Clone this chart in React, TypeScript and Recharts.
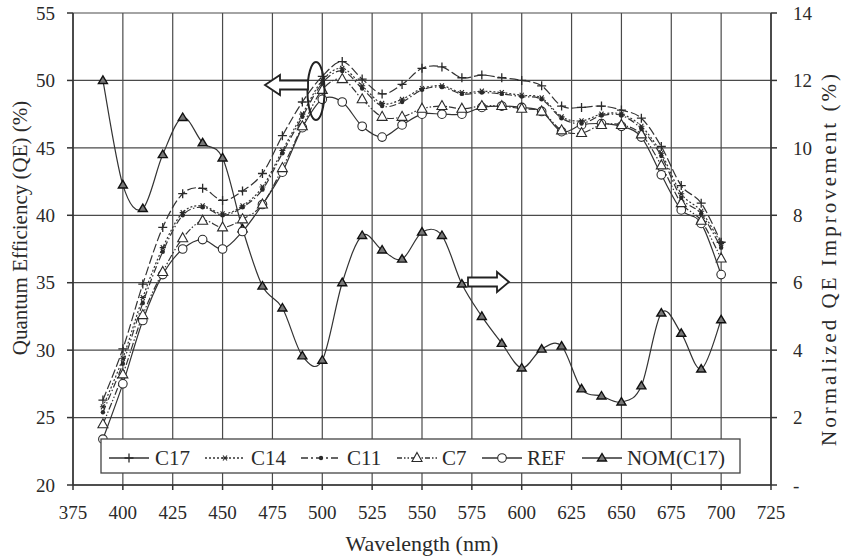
import React from 'react';
import { LineChart, Line, XAxis, YAxis, CartesianGrid } from 'recharts';

const wavelengths = [390, 400, 410, 420, 430, 440, 450, 460, 470, 480, 490, 500, 510, 520, 530, 540, 550, 560, 570, 580, 590, 600, 610, 620, 630, 640, 650, 660, 670, 680, 690, 700];
const c17 = [26.3, 30.1, 34.9, 39.1, 41.6, 42.0, 41.1, 41.8, 43.1, 45.9, 48.4, 50.3, 51.4, 50.1, 49.0, 49.7, 50.9, 51.0, 50.2, 50.4, 50.2, 50.0, 49.6, 48.1, 48.0, 48.1, 47.8, 47.2, 45.1, 42.2, 40.9, 38.0];
const c14 = [25.8, 29.4, 33.9, 37.6, 40.2, 40.7, 40.1, 40.7, 42.1, 44.8, 47.5, 50.0, 50.9, 49.6, 48.3, 48.6, 49.4, 49.6, 49.1, 49.2, 49.1, 48.9, 48.7, 47.3, 47.0, 47.5, 47.5, 46.6, 44.6, 41.6, 40.3, 37.9];
const c11 = [25.4, 29.0, 33.5, 37.3, 40.0, 40.6, 40.0, 40.6, 41.9, 44.6, 47.3, 49.8, 50.7, 49.4, 48.1, 48.4, 49.3, 49.5, 49.0, 49.1, 49.0, 48.8, 48.6, 47.2, 46.8, 47.4, 47.4, 46.4, 44.4, 41.3, 40.1, 37.6];
const c7 = [24.5, 28.2, 32.6, 35.8, 38.3, 39.6, 39.1, 39.7, 40.8, 43.5, 46.6, 49.3, 50.1, 48.6, 47.3, 47.3, 47.9, 48.1, 47.9, 48.1, 48.1, 47.9, 47.7, 46.3, 46.1, 46.7, 46.7, 46.0, 43.7, 40.9, 39.6, 36.8];
const ref = [23.4, 27.5, 32.2, 35.6, 37.5, 38.2, 37.5, 38.8, 40.8, 43.2, 46.5, 48.6, 48.4, 46.6, 45.8, 46.7, 47.5, 47.5, 47.5, 48.0, 48.1, 48.0, 47.7, 46.2, 46.7, 46.8, 46.6, 45.8, 43.0, 40.4, 39.4, 35.6];
const nom = [12.0, 8.9, 8.2, 9.8, 10.9, 10.15, 9.7, 7.6, 5.9, 5.25, 3.83, 3.7, 6.0, 7.4, 6.97, 6.7, 7.5, 7.4, 5.96, 5.0, 4.2, 3.47, 4.03, 4.12, 2.85, 2.64, 2.46, 2.94, 5.1, 4.5, 3.44, 4.9];

const xTicks = [375, 400, 425, 450, 475, 500, 525, 550, 575, 600, 625, 650, 675, 700, 725];
const leftTicks = [20, 25, 30, 35, 40, 45, 50, 55];
const rightTicks = [0, 2, 4, 6, 8, 10, 12, 14];

const data = wavelengths.map((nm, i) => ({
  nm,
  c17: c17[i],
  c14: c14[i],
  c11: c11[i],
  c7: c7[i],
  ref: ref[i],
  nom: nom[i],
}));

const FONT = "'Liberation Serif', 'Times New Roman', Tinos, 'DejaVu Serif', 'Noto Serif', Times, serif";
const INK = '#2a2a2a';

// excel-like smoothed line (catmull-rom as cubic beziers)
const smooth = (context: any) => {
  let pts: number[][] = [];
  return {
    areaStart() {},
    areaEnd() {},
    lineStart() {
      pts = [];
    },
    lineEnd() {
      const n = pts.length;
      if (!n) return;
      context.moveTo(pts[0][0], pts[0][1]);
      for (let i = 0; i < n - 1; i++) {
        const p0 = pts[Math.max(i - 1, 0)];
        const p1 = pts[i];
        const p2 = pts[i + 1];
        const p3 = pts[Math.min(i + 2, n - 1)];
        context.bezierCurveTo(
          p1[0] + (p2[0] - p0[0]) / 6,
          p1[1] + (p2[1] - p0[1]) / 6,
          p2[0] - (p3[0] - p1[0]) / 6,
          p2[1] - (p3[1] - p1[1]) / 6,
          p2[0],
          p2[1]
        );
      }
    },
    point(x: number, y: number) {
      pts.push([+x, +y]);
    },
  };
};

const plusMark = (cx: number, cy: number) => (
  <path d={`M${cx - 4.5},${cy}h9M${cx},${cy - 4.5}v9`} stroke={INK} strokeWidth={1.3} fill="none" />
);
const starMark = (cx: number, cy: number) => (
  <path
    d={`M${cx - 3},${cy}h6M${cx - 2},${cy - 2.5}l4,5M${cx + 2},${cy - 2.5}l-4,5`}
    stroke={INK}
    strokeWidth={1.1}
    fill="none"
  />
);
const dotMark = (cx: number, cy: number) => <circle cx={cx} cy={cy} r={2.2} fill={INK} />;
const openTriMark = (cx: number, cy: number) => (
  <path d={`M${cx},${cy - 5.5}L${cx + 5},${cy + 3.5}L${cx - 5},${cy + 3.5}Z`} fill="#fff" stroke={INK} strokeWidth={1.1} />
);
const circleMark = (cx: number, cy: number) => (
  <circle cx={cx} cy={cy} r={4.3} fill="#fff" stroke={INK} strokeWidth={1.1} />
);
const nomMark = (cx: number, cy: number) => (
  <path d={`M${cx},${cy - 4.5}L${cx + 4.5},${cy + 3}L${cx - 4.5},${cy + 3}Z`} fill="#777" stroke="#111" strokeWidth={1.4} />
);

const dotWith = (mark: (cx: number, cy: number) => React.ReactElement) => (props: any) => {
  const { cx, cy, index } = props;
  if (cx == null || cy == null) return <g key={`e${index}`} />;
  return <g key={`d${index}`}>{mark(cx, cy)}</g>;
};

const series = [
  { key: 'nom', name: 'NOM(C17)', axis: 'right', dash: undefined, mark: nomMark },
  { key: 'ref', name: 'REF', axis: 'left', dash: undefined, mark: circleMark },
  { key: 'c7', name: 'C7', axis: 'left', dash: '7 2 1.5 2 1.5 2', mark: openTriMark },
  { key: 'c11', name: 'C11', axis: 'left', dash: '7 2.5 1.5 2.5', mark: dotMark },
  { key: 'c14', name: 'C14', axis: 'left', dash: '2 2', mark: starMark },
  { key: 'c17', name: 'C17', axis: 'left', dash: '9 3', mark: plusMark },
];

// legend entries in display order
const legendItems = [
  { name: 'C17', lineX: 109, textX: 155, dash: undefined, mark: plusMark },
  { name: 'C14', lineX: 205, textX: 251, dash: '2 2', mark: starMark },
  { name: 'C11', lineX: 301, textX: 347, dash: '7 3 2 3', mark: dotMark },
  { name: 'C7', lineX: 397, textX: 442, dash: '5 2 1.5 2 1.5 2', mark: openTriMark },
  { name: 'REF', lineX: 482, textX: 527, dash: undefined, mark: circleMark },
  { name: 'NOM(C17)', lineX: 582, textX: 627, dash: undefined, mark: nomMark },
];

const tickStyle = { fontSize: 19, fill: INK, fontFamily: FONT };

export default function App() {
  return (
    <div style={{ position: 'absolute', left: 0, top: 0, width: 843, height: 560, background: '#fff', fontFamily: FONT }}>
      <LineChart width={843} height={560} data={data} margin={{ top: 13, right: 0, bottom: 0, left: 0 }} style={{ fontFamily: FONT }}>
        <CartesianGrid yAxisId="left" stroke="#4a4a4a" strokeWidth={1.2} />
        <XAxis
          dataKey="nm"
          type="number"
          domain={[375, 725]}
          ticks={xTicks}
          height={75}
          tickSize={5}
          tickMargin={16}
          stroke="#333"
          strokeWidth={1.5}
          tick={tickStyle}
        />
        <YAxis
          yAxisId="left"
          domain={[20, 55]}
          ticks={leftTicks}
          width={73}
          tickSize={6}
          tickMargin={12}
          stroke="#333"
          strokeWidth={1.5}
          tick={tickStyle}
        />
        <YAxis
          yAxisId="right"
          orientation="right"
          domain={[0, 14]}
          ticks={rightTicks}
          width={72}
          tickSize={6}
          tickMargin={16}
          stroke="#333"
          strokeWidth={1.5}
          tick={tickStyle}
          tickFormatter={(v: number) => (v === 0 ? '-' : String(v))}
        />
        {series.map((s) => (
          <Line
            key={s.key}
            yAxisId={s.axis}
            dataKey={s.key}
            name={s.name}
            type={smooth as any}
            stroke="#333"
            strokeWidth={1.2}
            strokeDasharray={s.dash}
            dot={dotWith(s.mark)}
            activeDot={false}
            isAnimationActive={false}
          />
        ))}
      </LineChart>

      <svg
        width={843}
        height={560}
        style={{ position: 'absolute', left: 0, top: 0, pointerEvents: 'none', fontFamily: FONT }}
      >
        {/* axis titles */}
        <text x={0} y={0} transform="translate(27,228) rotate(-90)" textAnchor="middle" fontSize={21} fill={INK}>
          Quantum Efficiency (QE) (%)
        </text>
        <text
          x={0}
          y={0}
          transform="translate(836,260) rotate(-90)"
          textAnchor="middle"
          fontSize={21}
          fill={INK}
          textLength={372}
          lengthAdjust="spacing"
        >
          Normalized QE Improvement (%)
        </text>
        <text x={422} y={551} textAnchor="middle" fontSize={22} fill={INK}>
          Wavelength (nm)
        </text>

        {/* annotation: arrows and ellipse */}
        <ellipse cx={316} cy={91} rx={8.5} ry={29} fill="none" stroke="#222" strokeWidth={2} />
        <path d="M265,85 L280,75 L280,80.5 L308,80.5 L308,89.5 L280,89.5 L280,95 Z" fill="#fff" stroke="#222" strokeWidth={1.8} />
        <path d="M509,282 L497,272 L497,277.5 L468,277.5 L468,286.5 L497,286.5 L497,292 Z" fill="#fff" stroke="#222" strokeWidth={1.8} />

        {/* legend */}
        <rect x={101} y={439} width={639} height={34} fill="#fff" stroke="#444" strokeWidth={1.3} />
        {legendItems.map((it) => (
          <g key={it.name}>
            <line x1={it.lineX} x2={it.lineX + 40} y1={458} y2={458} stroke="#333" strokeWidth={1.3} strokeDasharray={it.dash} />
            {it.mark(it.lineX + 20, 458)}
            <text x={it.textX} y={465} fontSize={21} fill={INK}>
              {it.name}
            </text>
          </g>
        ))}
      </svg>
    </div>
  );
}
